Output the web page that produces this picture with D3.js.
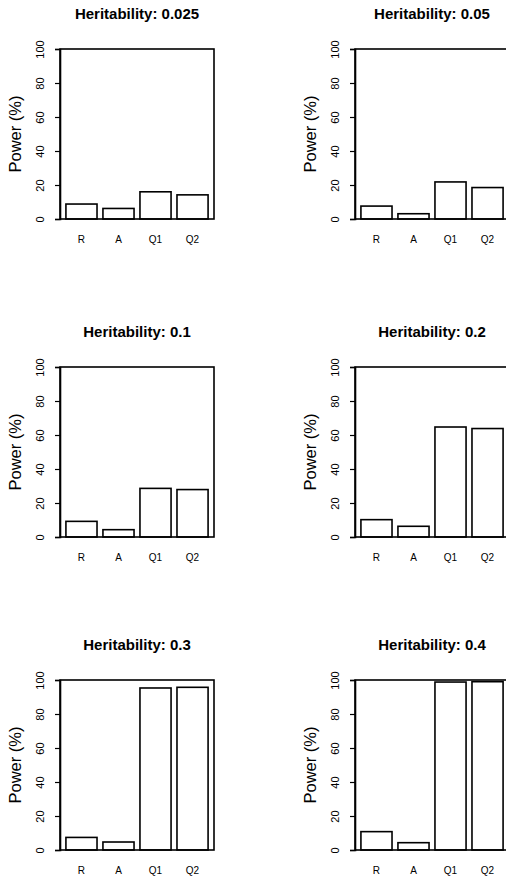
<!DOCTYPE html>
<html>
<head>
<meta charset="utf-8">
<script src="https://cdn.jsdelivr.net/npm/d3@7"></script>
<style>
  body { margin: 0; background: #fff; }
  svg { display: block; font-family: "Liberation Sans", Arial, sans-serif; }
</style>
</head>
<body>
<script>
// bar categories and y ticks
const categories = ["R", "A", "Q1", "Q2"];
const yTicks = [0, 20, 40, 60, 80, 100];

// one panel per heritability level
const heritability = ["0.025", "0.05", "0.1", "0.2", "0.3", "0.4"];
const power025 = [8.8, 6.2, 16.0, 14.2];
const power05 = [7.6, 3.1, 21.8, 18.5];
const power1 = [9.2, 4.3, 28.6, 27.9];
const power2 = [10.2, 6.3, 64.7, 63.8];
const power3 = [7.4, 4.7, 95.3, 95.7];
const power4 = [10.8, 4.3, 98.8, 99.0];
const powerValues = [power025, power05, power1, power2, power3, power4];

window.onload = drawChart();

function drawChart(){
    let width = 506;
    let height = 879;

    let svg = d3.select("body")
        .append("svg")
        .attr("width", width)
        .attr("height", height);

    // panel box positions
    let colLeft = [60, 355];
    let rowTop = [49, 367, 680];
    let boxW = 154;
    let boxH = 170;

    heritability.forEach(function(h, i){
        let x0 = colLeft[i % 2];
        let y0 = rowTop[Math.floor(i / 2)];
        let values = powerValues[i];

        let g = svg.append("g")
            .attr("transform", "translate(" + x0 + "," + y0 + ")");

        let x = d3.scaleBand()
            .domain(categories)
            .range([0, boxW])
            .paddingInner(0.16)
            .paddingOuter(0.16);

        let y = d3.scaleLinear()
            .domain([0, 100])
            .range([boxH, 0]);

        // bars
        g.selectAll(".bar")
            .data(values)
            .enter()
            .append("rect")
            .attr("class", "bar")
            .attr("x", (d, j) => x(categories[j]))
            .attr("y", d => y(d))
            .attr("width", x.bandwidth())
            .attr("height", d => y(0) - y(d))
            .attr("fill", "#fff")
            .attr("stroke", "#000")
            .attr("stroke-width", 1.6);

        // frame
        g.append("rect")
            .attr("x", 0)
            .attr("y", 0)
            .attr("width", boxW)
            .attr("height", boxH)
            .attr("fill", "none")
            .attr("stroke", "#000")
            .attr("stroke-width", 1.6);

        // y axis
        let yAxis = g.append("g")
            .call(d3.axisLeft(y).tickValues(yTicks).tickSize(5).tickPadding(0));
        yAxis.select(".domain").attr("stroke-width", 1.6);
        yAxis.selectAll(".tick line").attr("stroke-width", 1.2);
        yAxis.selectAll(".tick text")
            .attr("x", -20)
            .attr("dy", 0)
            .attr("transform", "rotate(-90," + (-20) + ",0)")
            .attr("text-anchor", "middle")
            .attr("dominant-baseline", "central")
            .style("font-size", "11px")
            .style("font-family", "Liberation Sans, Arial, sans-serif")
            .attr("fill", "#000");

        // x labels
        g.selectAll(".xlab")
            .data(categories)
            .enter()
            .append("text")
            .attr("class", "xlab")
            .attr("x", d => x(d) + x.bandwidth() / 2)
            .attr("y", boxH + 20)
            .attr("text-anchor", "middle")
            .attr("dominant-baseline", "central")
            .style("font-size", "10px")
            .text(d => d);

        // y axis title
        g.append("text")
            .attr("transform", "translate(-45," + (boxH / 2) + ") rotate(-90)")
            .attr("text-anchor", "middle")
            .attr("dominant-baseline", "central")
            .style("font-size", "16.5px")
            .text("Power (%)");

        // panel title
        g.append("text")
            .attr("x", boxW / 2)
            .attr("y", -36)
            .attr("text-anchor", "middle")
            .attr("dominant-baseline", "central")
            .style("font-size", "15px")
            .style("font-weight", "bold")
            .text("Heritability: " + h);
    });
};
</script>
</body>
</html>
